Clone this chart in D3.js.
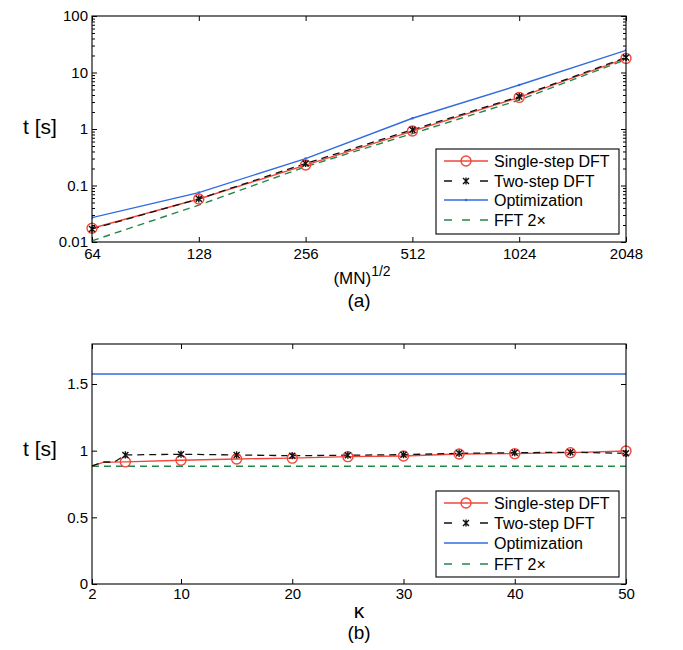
<!DOCTYPE html>
<html>
<head>
<meta charset="utf-8">
<script src="https://cdn.jsdelivr.net/npm/d3@7"></script>
<style>
  body { margin: 0; background: #fff; }
  svg { display: block; }
  text { font-family: "Liberation Sans", Arial, Helvetica, sans-serif; fill: #000; }
</style>
</head>
<body>
<svg id="chart" width="683" height="650"></svg>
<script>
// ---------- DATA ----------
// Panel (a)
const sizes = [64, 128, 256, 512, 1024, 2048];
const aSingle = [0.0175, 0.0577, 0.23, 0.92, 3.63, 17.8];
const aTwo = [0.017, 0.058, 0.245, 0.97, 3.75, 18.5];
const aOpt = [0.027, 0.0747, 0.30, 1.55, 6.0, 24.7];
const aFFT = [0.0105, 0.045, 0.215, 0.83, 3.25, 17.0];
const aYTicks = [0.01, 0.1, 1, 10, 100];
const aYTickLabels = ["0.01", "0.1", "1", "10", "100"];

// Panel (b)
const kappa = [2, 3, 4, 5, 10, 15, 20, 25, 30, 35, 40, 45, 50];
const bSingle = [0.885, 0.912, 0.914, 0.916, 0.928, 0.938, 0.944, 0.955, 0.960, 0.975, 0.978, 0.985, 0.998];
const bTwo = [0.885, 0.915, 0.915, 0.968, 0.973, 0.968, 0.962, 0.966, 0.970, 0.980, 0.985, 0.988, 0.980];
const bMarkerKappa = [5, 10, 15, 20, 25, 30, 35, 40, 45, 50];
const bOptKappa = [2, 50];
const bOpt = [1.575, 1.575];
const bFFT = [0.883, 0.883];
const bXTicks = [2, 10, 20, 30, 40, 50];
const bYTicks = [0, 0.5, 1, 1.5];
const bYTickLabels = ["0", "0.5", "1", "1.5"];

const seriesNames = ["Single-step DFT", "Two-step DFT", "Optimization", "FFT 2\u00d7"];

// ---------- STYLE ----------
const RED = "#f2463a", BLACK = "#111", BLUE = "#2f6be0", GREEN = "#23874a";
const TICK_FS = 15;

const svg = d3.select("#chart");

function drawAsterisk(g, x, y, s) {
  const p = d3.path();
  p.moveTo(x - s, y - s); p.lineTo(x + s, y + s);
  p.moveTo(x - s, y + s); p.lineTo(x + s, y - s);
  p.moveTo(x, y - s * 1.2); p.lineTo(x, y + s * 1.2);
  g.append("path").attr("d", p.toString()).attr("stroke", BLACK).attr("stroke-width", 1.4).attr("fill", "none");
}

function panelFrame(g, L, R, T, B, id) {
  g.append("clipPath").attr("id", id).append("rect")
    .attr("x", L).attr("y", T).attr("width", R - L).attr("height", B - T);
}

function legend(g, L, T, R, B, rows, showDot) {
  g.append("rect").attr("x", L).attr("y", T).attr("width", R - L).attr("height", B - T)
    .attr("fill", "#fff").attr("stroke", "#000").attr("stroke-width", 1.1);
  const x0 = L + 8, x1 = L + 52, xm = (x0 + x1) / 2, tx = L + 58;
  g.append("line").attr("x1", x0).attr("x2", x1).attr("y1", rows[0]).attr("y2", rows[0]).attr("stroke", RED).attr("stroke-width", 1.4);
  g.append("circle").attr("cx", xm).attr("cy", rows[0]).attr("r", 5).attr("fill", "none").attr("stroke", RED).attr("stroke-width", 1.4);
  g.append("line").attr("x1", x0).attr("x2", x1).attr("y1", rows[1]).attr("y2", rows[1]).attr("stroke", BLACK).attr("stroke-width", 1.3).attr("stroke-dasharray", "8,28");
  drawAsterisk(g, xm, rows[1], 3);
  g.append("line").attr("x1", x0).attr("x2", x1).attr("y1", rows[2]).attr("y2", rows[2]).attr("stroke", BLUE).attr("stroke-width", 1.4);
  if (showDot) g.append("circle").attr("cx", xm).attr("cy", rows[2]).attr("r", 1.3).attr("fill", BLUE);
  g.append("line").attr("x1", x0).attr("x2", x1).attr("y1", rows[3]).attr("y2", rows[3]).attr("stroke", GREEN).attr("stroke-width", 1.4).attr("stroke-dasharray", "8,10");
  seriesNames.forEach((n, i) => {
    g.append("text").attr("x", tx).attr("y", rows[i] + 5.5).attr("font-size", 16).text(n);
  });
}

function styleTicks(g) {
  g.selectAll(".domain").remove();
  g.selectAll(".tick line").attr("stroke", "#000");
  g.selectAll(".tick text").attr("font-size", TICK_FS).attr("font-family", "Liberation Sans, Arial, sans-serif").attr("fill", "#000");
}

// ================= PANEL (a) =================
(function () {
  const L = 92, R = 626, T = 16, B = 242;
  const g = svg.append("g");
  panelFrame(g, L, R, T, B, "clipA");
  const x = d3.scaleLog().base(2).domain([64, 2048]).range([L, R]);
  const y = d3.scaleLog().domain([0.01, 100]).range([B, T]);

  const minor = [];
  for (let d = 0.01; d < 100; d *= 10) for (let k = 2; k <= 9; k++) minor.push(d * k);

  g.append("g").attr("transform", `translate(0,${B})`)
    .call(d3.axisBottom(x).tickValues(sizes).tickFormat(d3.format("d")).tickSize(-5).tickPadding(6));
  g.append("g").attr("transform", `translate(0,${T})`)
    .call(d3.axisTop(x).tickValues(sizes).tickFormat("").tickSize(-5));
  g.append("g").attr("transform", `translate(${L},0)`)
    .call(d3.axisLeft(y).tickValues(aYTicks).tickFormat((d, i) => aYTickLabels[i]).tickSize(-5).tickPadding(4));
  g.append("g").attr("transform", `translate(${L},0)`)
    .call(d3.axisLeft(y).tickValues(minor).tickFormat("").tickSize(-3));
  g.append("g").attr("transform", `translate(${R},0)`)
    .call(d3.axisRight(y).tickValues(aYTicks).tickFormat("").tickSize(-5));
  g.append("g").attr("transform", `translate(${R},0)`)
    .call(d3.axisRight(y).tickValues(minor).tickFormat("").tickSize(-3));
  styleTicks(g);

  const plot = g.append("g").attr("clip-path", "url(#clipA)");
  const line = d3.line().x(d => x(d[0])).y(d => y(d[1]));
  const zip = v => sizes.map((s, i) => [s, v[i]]);

  plot.append("path").attr("d", line(zip(aOpt))).attr("fill", "none").attr("stroke", BLUE).attr("stroke-width", 1.4);
  zip(aOpt).forEach(d => plot.append("circle").attr("cx", x(d[0])).attr("cy", y(d[1])).attr("r", 1.3).attr("fill", BLUE));
  plot.append("path").attr("d", line(zip(aFFT))).attr("fill", "none").attr("stroke", GREEN).attr("stroke-width", 1.4).attr("stroke-dasharray", "7,5");
  plot.append("path").attr("d", line(zip(aSingle))).attr("fill", "none").attr("stroke", RED).attr("stroke-width", 1.4);
  plot.append("path").attr("d", line(zip(aTwo))).attr("fill", "none").attr("stroke", BLACK).attr("stroke-width", 1.3).attr("stroke-dasharray", "7,5");
  const mk = g.append("g");
  zip(aSingle).forEach(d => mk.append("circle").attr("cx", x(d[0])).attr("cy", y(d[1])).attr("r", 5).attr("fill", "none").attr("stroke", RED).attr("stroke-width", 1.4));
  zip(aTwo).forEach(d => drawAsterisk(mk, x(d[0]), y(d[1]), 3));

  g.append("rect").attr("x", L).attr("y", T).attr("width", R - L).attr("height", B - T)
    .attr("fill", "none").attr("stroke", "#000").attr("stroke-width", 1.1);

  legend(g, 436, 149, 619, 234, [161, 181, 200, 220], true);

  g.append("text").attr("x", 40).attr("y", 134).attr("text-anchor", "middle").attr("font-size", 21).text("t [s]");
  const xl = g.append("text").attr("x", 362).attr("y", 284).attr("text-anchor", "middle").attr("font-size", 17);
  xl.append("tspan").text("(MN)");
  xl.append("tspan").attr("dy", -8).attr("font-size", 14).text("1/2");
  g.append("text").attr("x", 359).attr("y", 307).attr("text-anchor", "middle").attr("font-size", 19).text("(a)");
})();

// ================= PANEL (b) =================
(function () {
  const L = 92, R = 626, T = 344, B = 584;
  const g = svg.append("g");
  panelFrame(g, L, R, T, B, "clipB");
  const x = d3.scaleLinear().domain([2, 50]).range([L, R]);
  const y = d3.scaleLinear().domain([0, 1.8]).range([B, T]);

  g.append("g").attr("transform", `translate(0,${B})`)
    .call(d3.axisBottom(x).tickValues(bXTicks).tickFormat(d3.format("d")).tickSize(-5).tickPadding(4));
  g.append("g").attr("transform", `translate(0,${T})`)
    .call(d3.axisTop(x).tickValues(bXTicks).tickFormat("").tickSize(-5));
  g.append("g").attr("transform", `translate(${L},0)`)
    .call(d3.axisLeft(y).tickValues(bYTicks).tickFormat((d, i) => bYTickLabels[i]).tickSize(-5).tickPadding(4));
  g.append("g").attr("transform", `translate(${R},0)`)
    .call(d3.axisRight(y).tickValues(bYTicks).tickFormat("").tickSize(-5));
  styleTicks(g);

  const plot = g.append("g").attr("clip-path", "url(#clipB)");
  const line = d3.line().x(d => x(d[0])).y(d => y(d[1]));

  plot.append("path").attr("d", line(bOptKappa.map((k, i) => [k, bOpt[i]]))).attr("fill", "none").attr("stroke", BLUE).attr("stroke-width", 1.4);
  plot.append("path").attr("d", line(bOptKappa.map((k, i) => [k, bFFT[i]]))).attr("fill", "none").attr("stroke", GREEN).attr("stroke-width", 1.4).attr("stroke-dasharray", "7,5");
  plot.append("path").attr("d", line(kappa.map((k, i) => [k, bSingle[i]]))).attr("fill", "none").attr("stroke", RED).attr("stroke-width", 1.4);
  plot.append("path").attr("d", line(kappa.map((k, i) => [k, bTwo[i]]))).attr("fill", "none").attr("stroke", BLACK).attr("stroke-width", 1.3).attr("stroke-dasharray", "7,5");

  const mk = g.append("g");
  kappa.forEach((k, i) => {
    if (bMarkerKappa.indexOf(k) < 0) return;
    mk.append("circle").attr("cx", x(k)).attr("cy", y(bSingle[i])).attr("r", 5).attr("fill", "none").attr("stroke", RED).attr("stroke-width", 1.4);
  });
  kappa.forEach((k, i) => {
    if (bMarkerKappa.indexOf(k) < 0) return;
    drawAsterisk(mk, x(k), y(bTwo[i]), 3);
  });

  g.append("rect").attr("x", L).attr("y", T).attr("width", R - L).attr("height", B - T)
    .attr("fill", "none").attr("stroke", "#000").attr("stroke-width", 1.1);

  legend(g, 436, 491, 619, 577, [503, 523, 543, 564], false);

  g.append("text").attr("x", 40).attr("y", 456).attr("text-anchor", "middle").attr("font-size", 21).text("t [s]");
  g.append("text").attr("x", 359).attr("y", 618).attr("text-anchor", "middle").attr("font-size", 21).text("\u03ba");
  g.append("text").attr("x", 359).attr("y", 639).attr("text-anchor", "middle").attr("font-size", 19).text("(b)");
})();
</script>
</body>
</html>
